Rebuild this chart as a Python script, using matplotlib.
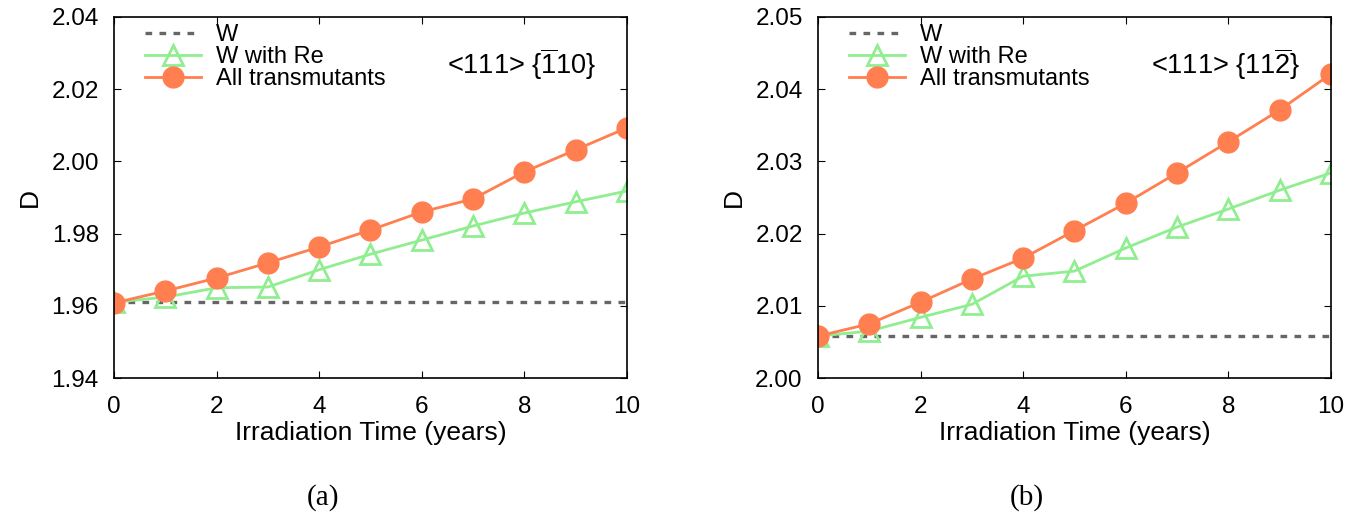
import matplotlib.pyplot as plt

plt.rcParams['font.family'] = ['Liberation Sans', 'DejaVu Sans']
plt.rcParams['mathtext.fontset'] = 'custom'
plt.rcParams['mathtext.rm'] = 'Liberation Sans'

# data
years = [0, 1, 2, 3, 4, 5, 6, 7, 8, 9, 10]

w_a = [1.961] * 11
re_a = [1.961, 1.9624, 1.965, 1.9652, 1.970, 1.9743, 1.9782, 1.9821, 1.9857, 1.9888, 1.9918]
all_a = [1.9608, 1.9641, 1.9677, 1.9719, 1.9763, 1.9810, 1.9860, 1.9896, 1.9971, 2.0032, 2.0093]

w_b = [2.0058] * 11
re_b = [2.0058, 2.0065, 2.0084, 2.0102, 2.0141, 2.0148, 2.0180, 2.0209, 2.0234, 2.0260, 2.0284]
all_b = [2.0058, 2.0075, 2.0105, 2.0137, 2.0166, 2.0204, 2.0242, 2.0284, 2.0327, 2.0371, 2.0421]

panels = [
    (w_a, re_a, all_a, (1.94, 2.04), [1.94, 1.96, 1.98, 2.00, 2.02, 2.04],
     r'<111> {$\mathrm{\overline{1}}$10}', '(a)'),
    (w_b, re_b, all_b, (2.00, 2.05), [2.00, 2.01, 2.02, 2.03, 2.04, 2.05],
     r'<111> {11$\mathrm{\overline{2}}$}', '(b)'),
]

fig = plt.figure(figsize=(13.61, 5.24), dpi=100)
lefts = [0.0838, 0.601]
for (w, re, al, ylim, yticks, label, cap), left in zip(panels, lefts):
    ax = fig.add_axes([left, 0.2786, 0.3768, 0.689])
    ax.plot(years, w, linestyle=(0, (2.0, 2.2)), color='#666666', lw=2.4, label='W')
    ax.plot(years, re, '-^', color='#90EE90', lw=2, ms=15, mfc='none', mew=2,
            label='W with Re')
    ax.plot(years, al, '-o', color='#FF7F50', lw=2, ms=15, label='All transmutants')
    ax.set_xlim(0, 10)
    ax.set_ylim(*ylim)
    ax.set_xticks([0, 2, 4, 6, 8, 10])
    ax.set_yticks(yticks)
    ax.set_yticklabels(['%.2f' % v for v in yticks])
    ax.tick_params(direction='in', top=True, right=True, labelsize=17.5, length=5)
    ax.tick_params(axis='y', pad=11)
    ax.tick_params(axis='x', pad=13)
    for s in ax.spines.values():
        s.set_linewidth(1.2)
    ax.set_xlabel('Irradiation Time (years)', fontsize=19, labelpad=2)
    ax.set_ylabel('D', fontsize=19, labelpad=7)
    ax.legend(loc='upper left', frameon=False, fontsize=17, handlelength=2.4,
              handletextpad=0.6, borderaxespad=0.0, labelspacing=0.0, borderpad=0.0,
              bbox_to_anchor=(0.06, 0.98))
    ax.text(0.94, 0.87, label, transform=ax.transAxes, fontsize=19.5,
            ha='right', va='center')
    fig.text(left + 0.3768 / 2 - 0.035, 0.05, cap, ha='center', va='center',
             fontsize=21, family='Liberation Serif')

fig.savefig('out.png', dpi=100)
